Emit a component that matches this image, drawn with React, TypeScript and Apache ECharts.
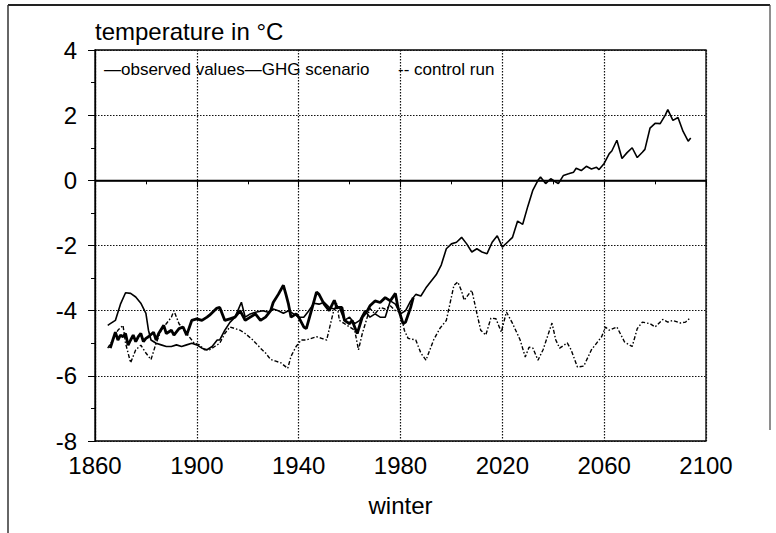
import React, { useEffect, useRef } from "react";
import * as echarts from "echarts";

const xTicks = [1860, 2100, 40];
const yTicks = [-8, 4, 2];

const obsYears = [1866, 1867, 1868, 1869, 1870, 1871, 1872, 1873, 1874, 1875, 1876, 1877, 1878, 1879, 1880, 1881, 1883, 1884, 1885, 1887, 1888, 1890, 1891, 1893, 1894.6, 1896, 1898, 1900, 1902, 1904, 1905, 1907.7, 1909, 1911, 1913, 1915, 1917, 1919, 1921, 1923, 1925, 1927, 1929, 1930, 1932, 1934, 1935, 1936, 1937, 1939, 1940, 1942, 1943, 1945, 1947, 1948, 1950, 1952, 1954, 1955, 1957, 1958, 1960, 1961, 1963, 1965, 1967, 1968, 1970, 1972, 1974, 1976, 1978, 1979, 1981, 1982, 1984, 1985];
const obsValues = [-5.15, -4.9, -4.66, -4.9, -4.75, -4.8, -4.7, -5.06, -4.9, -4.75, -4.95, -4.8, -4.7, -4.95, -4.85, -4.8, -4.66, -4.9, -4.7, -4.45, -4.7, -4.6, -4.75, -4.55, -4.5, -4.75, -4.3, -4.25, -4.3, -4.2, -4.14, -3.93, -3.9, -4.3, -4.25, -4.2, -4.0, -4.3, -4.2, -4.1, -4.3, -4.2, -4.0, -3.75, -3.5, -3.22, -3.5, -3.8, -4.2, -4.1, -4.2, -4.5, -4.55, -4.0, -3.43, -3.5, -3.8, -4.0, -3.68, -3.9, -3.9, -4.3, -4.4, -4.3, -4.7, -4.2, -4.0, -3.85, -3.7, -3.75, -3.6, -3.7, -3.47, -3.9, -4.4, -4.35, -3.9, -3.6];

const ghgYears = [1865, 1866, 1868, 1870, 1872, 1874, 1876, 1878, 1880, 1881, 1882, 1884, 1886, 1888, 1890, 1892, 1894, 1896, 1898, 1900, 1902, 1904, 1906, 1908, 1909, 1911, 1913, 1915, 1917.5, 1919, 1921, 1923, 1926, 1928, 1930, 1932, 1934, 1936, 1938, 1940, 1942, 1944, 1946, 1948, 1950, 1952, 1954, 1956, 1958, 1960, 1962, 1964, 1966, 1968, 1970, 1972, 1974, 1976, 1978, 1980, 1982, 1984, 1986, 1988, 1990, 1992, 1994, 1996, 1998, 2000, 2002, 2004, 2006, 2008, 2010, 2012, 2014, 2016, 2018, 2020, 2022, 2024, 2026, 2028, 2030, 2032, 2034, 2035, 2037, 2039, 2041, 2042, 2044, 2046, 2048, 2049, 2051, 2053, 2055, 2057, 2058, 2060, 2062, 2063, 2065, 2067, 2069, 2071, 2073, 2075, 2076, 2078, 2080, 2082, 2084, 2085, 2087, 2089, 2091, 2093, 2094];
const ghgValues = [-4.45, -4.4, -4.3, -3.8, -3.45, -3.47, -3.58, -3.77, -4.08, -4.6, -4.9, -5.0, -5.05, -5.1, -5.1, -5.05, -5.1, -5.05, -5.0, -5.05, -5.15, -5.2, -5.1, -4.9, -4.9, -4.6, -4.36, -4.2, -3.74, -4.2, -4.1, -4.05, -4.0, -4.05, -3.95, -4.0, -4.08, -4.0, -4.1, -4.2, -4.2, -4.0, -3.77, -3.8, -3.74, -3.9, -3.95, -3.9, -4.3, -4.2, -4.4, -4.3, -4.0, -4.2, -4.1, -4.2, -4.2, -3.7, -3.8, -4.1, -4.0, -3.7, -3.5, -3.55, -3.3, -3.1, -2.9, -2.6, -2.1, -1.95, -1.9, -1.75, -1.95, -2.2, -2.1, -2.2, -2.25, -1.9, -1.7, -2.05, -1.9, -1.75, -1.25, -1.35, -0.8, -0.3, 0.0, 0.1, -0.1, 0.05, -0.05, -0.1, 0.15, 0.2, 0.25, 0.37, 0.3, 0.43, 0.35, 0.4, 0.33, 0.52, 0.82, 0.9, 1.23, 0.67, 0.85, 1.0, 0.7, 0.86, 0.95, 1.6, 1.75, 1.74, 2.0, 2.17, 1.84, 1.93, 1.5, 1.2, 1.3];

const ctrlYears = [1865, 1867, 1869, 1871, 1872, 1874, 1876, 1878, 1880, 1882, 1884, 1886, 1888, 1890, 1891, 1893, 1895, 1897, 1899, 1901, 1903, 1905, 1907, 1909, 1911, 1913, 1915, 1917, 1919, 1922, 1925, 1927, 1929, 1931, 1933, 1935.7, 1937, 1939, 1941, 1943, 1945, 1947, 1949, 1951, 1953.5, 1955, 1956, 1958, 1960, 1962, 1963.5, 1965, 1968, 1970, 1972, 1974, 1976, 1978, 1980, 1981.5, 1983, 1986, 1988, 1990, 1993, 1995.5, 1998, 2001, 2002.5, 2004, 2005, 2008, 2010, 2011.5, 2013.5, 2015.5, 2017.5, 2019.6, 2021.6, 2024, 2027, 2029, 2030.5, 2032, 2034, 2036, 2039.5, 2041, 2042.5, 2045.5, 2047, 2049.5, 2052, 2055, 2059, 2060.5, 2062, 2065, 2068, 2071, 2073, 2075, 2078, 2080, 2083, 2085, 2087, 2090, 2092, 2093.8];
const ctrlValues = [-5.15, -4.9, -4.6, -4.45, -5.0, -5.6, -5.2, -5.06, -5.3, -5.5, -5.0, -4.6, -4.4, -4.2, -4.0, -4.4, -4.6, -4.8, -5.0, -5.05, -5.2, -5.2, -5.1, -5.0, -4.7, -4.5, -4.55, -4.6, -4.7, -4.9, -5.15, -5.3, -5.5, -5.55, -5.6, -5.77, -5.4, -5.1, -4.9, -4.9, -4.85, -4.8, -4.85, -4.9, -4.08, -3.77, -4.3, -4.4, -4.5, -4.6, -5.2, -4.7, -3.93, -4.1, -3.9, -3.95, -3.85, -4.0, -4.05, -4.6, -4.85, -4.9, -5.3, -5.52, -4.9, -4.54, -4.3, -3.22, -3.12, -3.4, -3.68, -3.37, -4.08, -4.6, -4.75, -4.23, -4.25, -4.66, -4.04, -4.39, -4.9, -5.42, -5.12, -5.15, -5.52, -5.2, -4.38, -4.9, -5.15, -4.99, -5.2, -5.73, -5.7, -5.2, -4.8, -4.5, -4.6, -4.5, -4.96, -5.1, -4.55, -4.35, -4.4, -4.5, -4.27, -4.35, -4.3, -4.38, -4.35, -4.22];

const seriesNames = ["observed values", "GHG scenario", "control run"];
const titleText = "temperature in °C";
const xName = "winter";

const zip = (xs: number[], ys: number[]) => xs.map((x, i) => [x, ys[i]]);

const FONT = "Liberation Sans, Arial, sans-serif";

export default function App() {
  const ref = useRef<HTMLDivElement>(null);
  useEffect(() => {
    if (!ref.current) return;
    const chart = echarts.init(ref.current, null, { renderer: "svg" });
    const axisCommon = {
      axisLine: { show: true, lineStyle: { color: "#000", width: 1.3 } },
      axisTick: { show: true, length: 7, lineStyle: { color: "#000", width: 1 } },
      minorTick: { show: true, splitNumber: 2, length: 4, lineStyle: { color: "#000", width: 1 } },
      splitLine: { show: true, lineStyle: { color: "#111", type: [1.5, 1.5], width: 1.2 } },
      axisLabel: { color: "#000", fontSize: 24, fontFamily: FONT, formatter: (v: number) => String(v) },
    };
    chart.setOption({
      animation: false,
      backgroundColor: "#fff",
      textStyle: { fontFamily: FONT },
      grid: { left: 95, right: 70, top: 50, bottom: 92, show: true, borderColor: "#000", borderWidth: 1.3, containLabel: false },
      xAxis: {
        type: "value",
        min: xTicks[0],
        max: xTicks[1],
        interval: xTicks[2],
        ...axisCommon,
        axisLabel: { ...axisCommon.axisLabel, margin: 12 },
        name: xName,
        nameLocation: "middle",
        nameGap: 52,
        nameTextStyle: { color: "#000", fontSize: 24, fontFamily: FONT },
      },
      yAxis: {
        type: "value",
        min: yTicks[0],
        max: yTicks[1],
        interval: yTicks[2],
        ...axisCommon,
        axisLabel: { ...axisCommon.axisLabel, margin: 18 },
      },
      series: [
        {
          name: seriesNames[0],
          type: "line",
          data: zip(obsYears, obsValues),
          showSymbol: false,
          lineStyle: { color: "#000", width: 2.8 },
          z: 5,
          markLine: {
            silent: true,
            symbol: "none",
            label: { show: false },
            lineStyle: { color: "#000", type: "solid", width: 1.5 },
            data: [{ yAxis: 0 }],
          },
        },
        {
          name: seriesNames[1],
          type: "line",
          data: zip(ghgYears, ghgValues),
          showSymbol: false,
          lineStyle: { color: "#000", width: 1.6 },
          z: 4,
        },
        {
          name: seriesNames[2],
          type: "line",
          data: zip(ctrlYears, ctrlValues),
          showSymbol: false,
          lineStyle: { color: "#000", width: 1.4, type: [4, 2, 1.5, 2] },
          z: 3,
        },
      ],
      graphic: [
        { type: "line", shape: { x1: 8, y1: 5, x2: 770, y2: 5 }, style: { stroke: "#222", lineWidth: 2 } },
        { type: "line", shape: { x1: 8, y1: 5, x2: 8, y2: 533 }, style: { stroke: "#333", lineWidth: 1.5 } },
        { type: "line", shape: { x1: 770, y1: 5, x2: 770, y2: 430 }, style: { stroke: "#444", lineWidth: 1.2 } },
        {
          type: "text",
          left: 95,
          top: 19,
          style: { text: titleText, fontSize: 24, fontFamily: FONT, fill: "#000" },
        },
        {
          type: "text",
          left: 104,
          top: 61,
          style: { text: "—" + seriesNames[0] + "—" + "GHG scenario", fontSize: 17, fontFamily: FONT, fill: "#000" },
        },
        {
          type: "text",
          left: 398,
          top: 61,
          style: { text: "‐‐ " + seriesNames[2], fontSize: 17, fontFamily: FONT, fill: "#000" },
        },
      ],
    });
    return () => chart.dispose();
  }, []);
  return <div ref={ref} style={{ position: "fixed", left: 0, top: 0, width: 776, height: 533 }} />;
}
